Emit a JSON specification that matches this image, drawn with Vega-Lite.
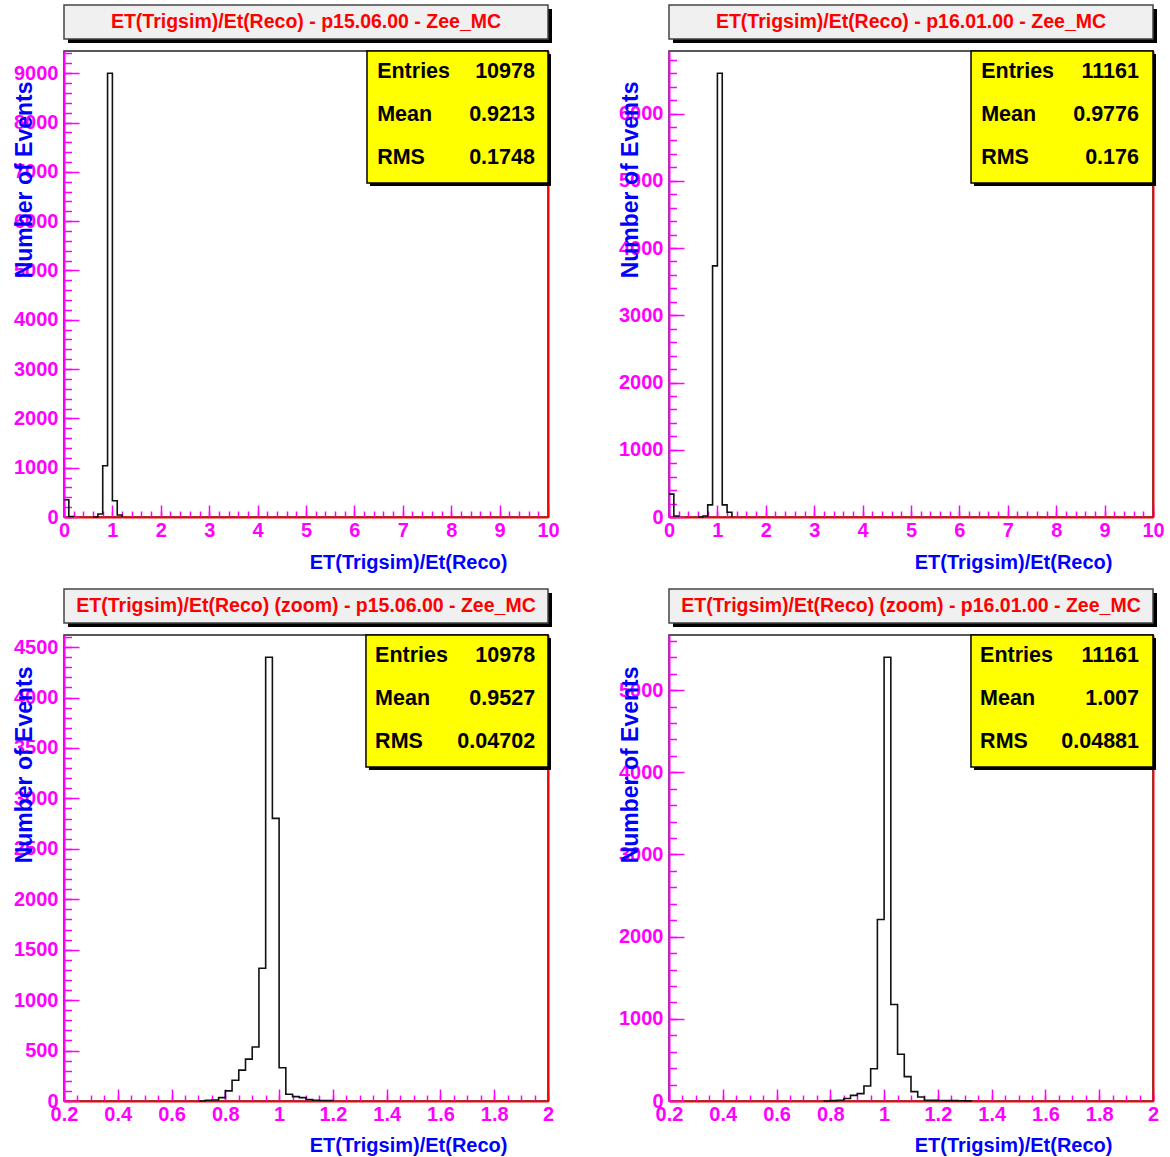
{
"$schema": "https://vega.github.io/schema/vega-lite/v6.json",
"background": "white",
"autosize": {"type": "pad"},
"padding": {"left": 12, "top": 3, "right": 4, "bottom": 4},
"datasets": {
"h1": [{"x":0,"n":350,"seg":"a"},{"x":0.1,"n":10,"seg":"a"},{"x":0.2,"n":0,"seg":"a"},{"x":0.6,"n":0,"seg":"b"},{"x":0.7,"n":60,"seg":"b"},{"x":0.8,"n":1040,"seg":"b"},{"x":0.9,"n":9000,"seg":"b"},{"x":1.0,"n":330,"seg":"b"},{"x":1.1,"n":40,"seg":"b"},{"x":1.2,"n":0,"seg":"b"}],
"h2": [{"x":0,"n":340,"seg":"a"},{"x":0.1,"n":15,"seg":"a"},{"x":0.2,"n":0,"seg":"a"},{"x":0.6,"n":0,"seg":"b"},{"x":0.7,"n":15,"seg":"b"},{"x":0.8,"n":180,"seg":"b"},{"x":0.9,"n":3735,"seg":"b"},{"x":1.0,"n":6600,"seg":"b"},{"x":1.1,"n":180,"seg":"b"},{"x":1.2,"n":70,"seg":"b"},{"x":1.3,"n":0,"seg":"b"}],
"h3": [{"x":0.7,"n":0,"seg":"a"},{"x":0.725,"n":8,"seg":"a"},{"x":0.75,"n":10,"seg":"a"},{"x":0.775,"n":33,"seg":"a"},{"x":0.8,"n":100,"seg":"a"},{"x":0.825,"n":206,"seg":"a"},{"x":0.85,"n":306,"seg":"a"},{"x":0.875,"n":415,"seg":"a"},{"x":0.9,"n":536,"seg":"a"},{"x":0.925,"n":1316,"seg":"a"},{"x":0.95,"n":4400,"seg":"a"},{"x":0.975,"n":2802,"seg":"a"},{"x":1.0,"n":330,"seg":"a"},{"x":1.025,"n":67,"seg":"a"},{"x":1.05,"n":43,"seg":"a"},{"x":1.075,"n":33,"seg":"a"},{"x":1.1,"n":15,"seg":"a"},{"x":1.125,"n":8,"seg":"a"},{"x":1.15,"n":5,"seg":"a"},{"x":1.175,"n":5,"seg":"a"},{"x":1.2,"n":0,"seg":"a"}],
"h4": [{"x":0.775,"n":0,"seg":"a"},{"x":0.8,"n":5,"seg":"a"},{"x":0.825,"n":10,"seg":"a"},{"x":0.85,"n":30,"seg":"a"},{"x":0.875,"n":68,"seg":"a"},{"x":0.9,"n":90,"seg":"a"},{"x":0.925,"n":182,"seg":"a"},{"x":0.95,"n":393,"seg":"a"},{"x":0.975,"n":2209,"seg":"a"},{"x":1.0,"n":5400,"seg":"a"},{"x":1.025,"n":1175,"seg":"a"},{"x":1.05,"n":568,"seg":"a"},{"x":1.075,"n":296,"seg":"a"},{"x":1.1,"n":114,"seg":"a"},{"x":1.125,"n":48,"seg":"a"},{"x":1.15,"n":10,"seg":"a"},{"x":1.175,"n":8,"seg":"a"},{"x":1.2,"n":6,"seg":"a"},{"x":1.225,"n":5,"seg":"a"},{"x":1.25,"n":4,"seg":"a"},{"x":1.275,"n":3,"seg":"a"},{"x":1.3,"n":2,"seg":"a"},{"x":1.325,"n":0,"seg":"a"}],
"s1": [{"k":"Entries","v":"10978"},{"k":"Mean","v":"0.9213"},{"k":"RMS","v":"0.1748"}],
"s2": [{"k":"Entries","v":"11161"},{"k":"Mean","v":"0.9776"},{"k":"RMS","v":"0.176"}],
"s3": [{"k":"Entries","v":"10978"},{"k":"Mean","v":"0.9527"},{"k":"RMS","v":"0.04702"}],
"s4": [{"k":"Entries","v":"11161"},{"k":"Mean","v":"1.007"},{"k":"RMS","v":"0.04881"}]
},
"columns": 2,
"spacing": {"row": 118, "column": 121},
"bounds": "flush",
"concat": [
{
"width": 484, "height": 466,
"resolve": {"scale": {"y": "independent"}, "axis": {"x": "independent", "y": "independent"}},
"layer": [
{"data": {"values": [{}]}, "mark": {"type": "rect", "color": "#000", "xOffset": 4, "x2Offset": 4, "yOffset": 4, "y2Offset": 4},
 "encoding": {"x": {"datum": 0, "type": "quantitative", "scale": {"domain": [0, 10], "nice": false}, "axis": null}, "x2": {"datum": 10},
  "y": {"datum": 10383, "type": "quantitative", "scale": {"domain": [0, 9450], "nice": false}, "axis": null}, "y2": {"datum": 9693}}},
{"data": {"values": [{}]}, "mark": {"type": "rect", "fill": "#f0f0f0", "stroke": "#444", "strokeWidth": 1.5},
 "encoding": {"x": {"datum": 0, "type": "quantitative", "scale": {"domain": [0, 10], "nice": false}, "axis": {"orient": "bottom", "values": [0,1,2,3,4,5,6,7,8,9,10], "tickSize": -12, "tickWidth": 1.5, "labels": false, "domain": false, "title": null}}, "x2": {"datum": 10},
  "y": {"datum": 10383, "type": "quantitative", "scale": {"domain": [0, 9450], "nice": false}, "axis": {"orient": "left", "values": [0,1000,2000,3000,4000,5000,6000,7000,8000,9000], "tickSize": -15, "tickWidth": 1.5, "labels": false, "domain": false, "title": null}}, "y2": {"datum": 9693}}},
{"data": {"values": [{}]}, "mark": {"type": "text", "font": "Liberation Sans", "fontWeight": "bold", "fontSize": 19.5, "color": "#ff0000", "align": "center", "baseline": "middle"},
 "encoding": {"x": {"datum": 5, "type": "quantitative", "scale": {"domain": [0, 10], "nice": false}, "axis": {"orient": "bottom", "values": [0,0.2,0.4,0.6,0.8,1,1.2,1.4,1.6,1.8,2,2.2,2.4,2.6,2.8,3,3.2,3.4,3.6,3.8,4,4.2,4.4,4.6,4.8,5,5.2,5.4,5.6,5.8,6,6.2,6.4,6.6,6.8,7,7.2,7.4,7.6,7.8,8,8.2,8.4,8.6,8.8,9,9.2,9.4,9.6,9.8,10], "tickSize": -6, "tickWidth": 1.5, "labels": false, "domain": false, "title": null}},
  "y": {"datum": 10038, "type": "quantitative", "scale": {"domain": [0, 9450], "nice": false}, "axis": {"orient": "left", "values": [0,200,400,600,800,1000,1200,1400,1600,1800,2000,2200,2400,2600,2800,3000,3200,3400,3600,3800,4000,4200,4400,4600,4800,5000,5200,5400,5600,5800,6000,6200,6400,6600,6800,7000,7200,7400,7600,7800,8000,8200,8400,8600,8800,9000,9200,9400], "tickSize": -7.5, "tickWidth": 1.5, "labels": false, "domain": false, "title": null}},
  "text": {"value": "ET(Trigsim)/Et(Reco) - p15.06.00 - Zee_MC"}}},
{"data": {"name": "h1"}, "mark": {"type": "line", "interpolate": "step-after", "color": "#111", "strokeWidth": 1.6},
 "encoding": {"x": {"field": "x", "type": "quantitative", "scale": {"domain": [0, 10], "nice": false}, "axis": {"orient": "bottom", "values": [0,1,2,3,4,5,6,7,8,9,10], "format": "~r", "ticks": false, "labelPadding": 3, "domainColor": "#ff0000", "domainWidth": 2, "title": "ET(Trigsim)/Et(Reco)", "titleFontSize": 20, "titleX": 443, "titleY": 45, "titleAlign": "right", "titleBaseline": "middle", "titleAnchor": "end"}},
  "y": {"field": "n", "type": "quantitative", "scale": {"domain": [0, 9450], "nice": false}, "axis": {"orient": "left", "values": [0,1000,2000,3000,4000,5000,6000,7000,8000,9000], "format": "d", "ticks": false, "labelPadding": 6, "domainColor": "#ff00ff", "domainWidth": 2, "title": "Number of Events", "titleFontSize": 23, "titleAngle": 270, "titleX": -40, "titleY": 30, "titleAlign": "right", "titleBaseline": "middle", "titleAnchor": "end"}},
  "detail": {"field": "seg"}}},
{"data": {"values": [{}]}, "mark": {"type": "rect", "color": "#000", "xOffset": 3, "x2Offset": 3, "yOffset": 3, "y2Offset": 3},
 "encoding": {"x": {"datum": 6.26, "type": "quantitative", "scale": {"domain": [0, 10], "nice": false}, "axis": null}, "x2": {"datum": 10},
  "y": {"datum": 9450, "type": "quantitative", "scale": {"domain": [0, 9450], "nice": false}, "axis": {"orient": "right", "ticks": false, "labels": false, "domainColor": "#ff0000", "domainWidth": 2, "title": null}}, "y2": {"datum": 6773}}},
{"data": {"values": [{}]}, "mark": {"type": "rect", "fill": "#ffff00", "stroke": "#000", "strokeWidth": 1.5},
 "encoding": {"x": {"datum": 6.26, "type": "quantitative", "scale": {"domain": [0, 10], "nice": false}, "axis": null}, "x2": {"datum": 10},
  "y": {"datum": 9450, "type": "quantitative", "scale": {"domain": [0, 9450], "nice": false}, "axis": null}, "y2": {"datum": 6773}}},
{"data": {"name": "s1"}, "mark": {"type": "text", "font": "Liberation Sans", "fontWeight": "bold", "fontSize": 21.5, "color": "#000", "align": "left", "baseline": "middle"},
 "encoding": {"x": {"datum": 6.47, "type": "quantitative", "scale": {"domain": [0, 10], "nice": false}, "axis": null},
  "y": {"field": "k", "type": "ordinal", "scale": {"type": "point", "domain": ["Entries", "Mean", "RMS"], "range": [21, 107], "padding": 0}, "axis": null}, "text": {"field": "k"}}},
{"data": {"name": "s1"}, "mark": {"type": "text", "font": "Liberation Sans", "fontWeight": "bold", "fontSize": 21.5, "color": "#000", "align": "right", "baseline": "middle"},
 "encoding": {"x": {"datum": 9.73, "type": "quantitative", "scale": {"domain": [0, 10], "nice": false}, "axis": null},
  "y": {"field": "k", "type": "ordinal", "scale": {"type": "point", "domain": ["Entries", "Mean", "RMS"], "range": [21, 107], "padding": 0}, "axis": null}, "text": {"field": "v"}}}
]
},
{
"width": 484, "height": 466,
"resolve": {"scale": {"y": "independent"}, "axis": {"x": "independent", "y": "independent"}},
"layer": [
{"data": {"values": [{}]}, "mark": {"type": "rect", "color": "#000", "xOffset": 4, "x2Offset": 4, "yOffset": 4, "y2Offset": 4},
 "encoding": {"x": {"datum": 0, "type": "quantitative", "scale": {"domain": [0, 10], "nice": false}, "axis": null}, "x2": {"datum": 10},
  "y": {"datum": 7614, "type": "quantitative", "scale": {"domain": [0, 6930], "nice": false}, "axis": null}, "y2": {"datum": 7108}}},
{"data": {"values": [{}]}, "mark": {"type": "rect", "fill": "#f0f0f0", "stroke": "#444", "strokeWidth": 1.5},
 "encoding": {"x": {"datum": 0, "type": "quantitative", "scale": {"domain": [0, 10], "nice": false}, "axis": {"orient": "bottom", "values": [0,1,2,3,4,5,6,7,8,9,10], "tickSize": -12, "tickWidth": 1.5, "labels": false, "domain": false, "title": null}}, "x2": {"datum": 10},
  "y": {"datum": 7614, "type": "quantitative", "scale": {"domain": [0, 6930], "nice": false}, "axis": {"orient": "left", "values": [0,1000,2000,3000,4000,5000,6000], "tickSize": -15, "tickWidth": 1.5, "labels": false, "domain": false, "title": null}}, "y2": {"datum": 7108}}},
{"data": {"values": [{}]}, "mark": {"type": "text", "font": "Liberation Sans", "fontWeight": "bold", "fontSize": 19.5, "color": "#ff0000", "align": "center", "baseline": "middle"},
 "encoding": {"x": {"datum": 5, "type": "quantitative", "scale": {"domain": [0, 10], "nice": false}, "axis": {"orient": "bottom", "values": [0,0.2,0.4,0.6,0.8,1,1.2,1.4,1.6,1.8,2,2.2,2.4,2.6,2.8,3,3.2,3.4,3.6,3.8,4,4.2,4.4,4.6,4.8,5,5.2,5.4,5.6,5.8,6,6.2,6.4,6.6,6.8,7,7.2,7.4,7.6,7.8,8,8.2,8.4,8.6,8.8,9,9.2,9.4,9.6,9.8,10], "tickSize": -6, "tickWidth": 1.5, "labels": false, "domain": false, "title": null}},
  "y": {"datum": 7361, "type": "quantitative", "scale": {"domain": [0, 6930], "nice": false}, "axis": {"orient": "left", "values": [0,200,400,600,800,1000,1200,1400,1600,1800,2000,2200,2400,2600,2800,3000,3200,3400,3600,3800,4000,4200,4400,4600,4800,5000,5200,5400,5600,5800,6000,6200,6400,6600,6800], "tickSize": -7.5, "tickWidth": 1.5, "labels": false, "domain": false, "title": null}},
  "text": {"value": "ET(Trigsim)/Et(Reco) - p16.01.00 - Zee_MC"}}},
{"data": {"name": "h2"}, "mark": {"type": "line", "interpolate": "step-after", "color": "#111", "strokeWidth": 1.6},
 "encoding": {"x": {"field": "x", "type": "quantitative", "scale": {"domain": [0, 10], "nice": false}, "axis": {"orient": "bottom", "values": [0,1,2,3,4,5,6,7,8,9,10], "format": "~r", "ticks": false, "labelPadding": 3, "domainColor": "#ff0000", "domainWidth": 2, "title": "ET(Trigsim)/Et(Reco)", "titleFontSize": 20, "titleX": 443, "titleY": 45, "titleAlign": "right", "titleBaseline": "middle", "titleAnchor": "end"}},
  "y": {"field": "n", "type": "quantitative", "scale": {"domain": [0, 6930], "nice": false}, "axis": {"orient": "left", "values": [0,1000,2000,3000,4000,5000,6000], "format": "d", "ticks": false, "labelPadding": 6, "domainColor": "#ff00ff", "domainWidth": 2, "title": "Number of Events", "titleFontSize": 23, "titleAngle": 270, "titleX": -39, "titleY": 30, "titleAlign": "right", "titleBaseline": "middle", "titleAnchor": "end"}},
  "detail": {"field": "seg"}}},
{"data": {"values": [{}]}, "mark": {"type": "rect", "color": "#000", "xOffset": 3, "x2Offset": 3, "yOffset": 3, "y2Offset": 3},
 "encoding": {"x": {"datum": 6.24, "type": "quantitative", "scale": {"domain": [0, 10], "nice": false}, "axis": null}, "x2": {"datum": 10},
  "y": {"datum": 6930, "type": "quantitative", "scale": {"domain": [0, 6930], "nice": false}, "axis": {"orient": "right", "ticks": false, "labels": false, "domainColor": "#ff0000", "domainWidth": 2, "title": null}}, "y2": {"datum": 4967}}},
{"data": {"values": [{}]}, "mark": {"type": "rect", "fill": "#ffff00", "stroke": "#000", "strokeWidth": 1.5},
 "encoding": {"x": {"datum": 6.24, "type": "quantitative", "scale": {"domain": [0, 10], "nice": false}, "axis": null}, "x2": {"datum": 10},
  "y": {"datum": 6930, "type": "quantitative", "scale": {"domain": [0, 6930], "nice": false}, "axis": null}, "y2": {"datum": 4967}}},
{"data": {"name": "s2"}, "mark": {"type": "text", "font": "Liberation Sans", "fontWeight": "bold", "fontSize": 21.5, "color": "#000", "align": "left", "baseline": "middle"},
 "encoding": {"x": {"datum": 6.45, "type": "quantitative", "scale": {"domain": [0, 10], "nice": false}, "axis": null},
  "y": {"field": "k", "type": "ordinal", "scale": {"type": "point", "domain": ["Entries", "Mean", "RMS"], "range": [21, 107], "padding": 0}, "axis": null}, "text": {"field": "k"}}},
{"data": {"name": "s2"}, "mark": {"type": "text", "font": "Liberation Sans", "fontWeight": "bold", "fontSize": 21.5, "color": "#000", "align": "right", "baseline": "middle"},
 "encoding": {"x": {"datum": 9.71, "type": "quantitative", "scale": {"domain": [0, 10], "nice": false}, "axis": null},
  "y": {"field": "k", "type": "ordinal", "scale": {"type": "point", "domain": ["Entries", "Mean", "RMS"], "range": [21, 107], "padding": 0}, "axis": null}, "text": {"field": "v"}}}
]
},
{
"width": 484, "height": 466,
"resolve": {"scale": {"y": "independent"}, "axis": {"x": "independent", "y": "independent"}},
"layer": [
{"data": {"values": [{}]}, "mark": {"type": "rect", "color": "#000", "xOffset": 4, "x2Offset": 4, "yOffset": 4, "y2Offset": 4},
 "encoding": {"x": {"datum": 0.2, "type": "quantitative", "scale": {"domain": [0.2, 2], "nice": false}, "axis": null}, "x2": {"datum": 2},
  "y": {"datum": 5076, "type": "quantitative", "scale": {"domain": [0, 4620], "nice": false}, "axis": null}, "y2": {"datum": 4739}}},
{"data": {"values": [{}]}, "mark": {"type": "rect", "fill": "#f0f0f0", "stroke": "#444", "strokeWidth": 1.5},
 "encoding": {"x": {"datum": 0.2, "type": "quantitative", "scale": {"domain": [0.2, 2], "nice": false}, "axis": {"orient": "bottom", "values": [0.2,0.4,0.6,0.8,1,1.2,1.4,1.6,1.8,2], "tickSize": -12, "tickWidth": 1.5, "labels": false, "domain": false, "title": null}}, "x2": {"datum": 2},
  "y": {"datum": 5076, "type": "quantitative", "scale": {"domain": [0, 4620], "nice": false}, "axis": {"orient": "left", "values": [0,500,1000,1500,2000,2500,3000,3500,4000,4500], "tickSize": -15, "tickWidth": 1.5, "labels": false, "domain": false, "title": null}}, "y2": {"datum": 4739}}},
{"data": {"values": [{}]}, "mark": {"type": "text", "font": "Liberation Sans", "fontWeight": "bold", "fontSize": 19.5, "color": "#ff0000", "align": "center", "baseline": "middle"},
 "encoding": {"x": {"datum": 1.1, "type": "quantitative", "scale": {"domain": [0.2, 2], "nice": false}, "axis": {"orient": "bottom", "values": [0.2,0.25,0.3,0.35,0.4,0.45,0.5,0.55,0.6,0.65,0.7,0.75,0.8,0.85,0.9,0.95,1,1.05,1.1,1.15,1.2,1.25,1.3,1.35,1.4,1.45,1.5,1.55,1.6,1.65,1.7,1.75,1.8,1.85,1.9,1.95,2], "tickSize": -6, "tickWidth": 1.5, "labels": false, "domain": false, "title": null}},
  "y": {"datum": 4908, "type": "quantitative", "scale": {"domain": [0, 4620], "nice": false}, "axis": {"orient": "left", "values": [0,100,200,300,400,500,600,700,800,900,1000,1100,1200,1300,1400,1500,1600,1700,1800,1900,2000,2100,2200,2300,2400,2500,2600,2700,2800,2900,3000,3100,3200,3300,3400,3500,3600,3700,3800,3900,4000,4100,4200,4300,4400,4500,4600], "tickSize": -7.5, "tickWidth": 1.5, "labels": false, "domain": false, "title": null}},
  "text": {"value": "ET(Trigsim)/Et(Reco) (zoom) - p15.06.00 - Zee_MC"}}},
{"data": {"name": "h3"}, "mark": {"type": "line", "interpolate": "step-after", "color": "#111", "strokeWidth": 1.6},
 "encoding": {"x": {"field": "x", "type": "quantitative", "scale": {"domain": [0.2, 2], "nice": false}, "axis": {"orient": "bottom", "values": [0.2,0.4,0.6,0.8,1,1.2,1.4,1.6,1.8,2], "format": "~r", "ticks": false, "labelPadding": 3, "domainColor": "#ff0000", "domainWidth": 2, "title": "ET(Trigsim)/Et(Reco)", "titleFontSize": 20, "titleX": 443, "titleY": 44, "titleAlign": "right", "titleBaseline": "middle", "titleAnchor": "end"}},
  "y": {"field": "n", "type": "quantitative", "scale": {"domain": [0, 4620], "nice": false}, "axis": {"orient": "left", "values": [0,500,1000,1500,2000,2500,3000,3500,4000,4500], "format": "d", "ticks": false, "labelPadding": 6, "domainColor": "#ff00ff", "domainWidth": 2, "title": "Number of Events", "titleFontSize": 23, "titleAngle": 270, "titleX": -40, "titleY": 31, "titleAlign": "right", "titleBaseline": "middle", "titleAnchor": "end"}},
  "detail": {"field": "seg"}}},
{"data": {"values": [{}]}, "mark": {"type": "rect", "color": "#000", "xOffset": 3, "x2Offset": 3, "yOffset": 3, "y2Offset": 3},
 "encoding": {"x": {"datum": 1.323, "type": "quantitative", "scale": {"domain": [0.2, 2], "nice": false}, "axis": null}, "x2": {"datum": 2},
  "y": {"datum": 4620, "type": "quantitative", "scale": {"domain": [0, 4620], "nice": false}, "axis": {"orient": "right", "ticks": false, "labels": false, "domainColor": "#ff0000", "domainWidth": 2, "title": null}}, "y2": {"datum": 3311}}},
{"data": {"values": [{}]}, "mark": {"type": "rect", "fill": "#ffff00", "stroke": "#000", "strokeWidth": 1.5},
 "encoding": {"x": {"datum": 1.323, "type": "quantitative", "scale": {"domain": [0.2, 2], "nice": false}, "axis": null}, "x2": {"datum": 2},
  "y": {"datum": 4620, "type": "quantitative", "scale": {"domain": [0, 4620], "nice": false}, "axis": null}, "y2": {"datum": 3311}}},
{"data": {"name": "s3"}, "mark": {"type": "text", "font": "Liberation Sans", "fontWeight": "bold", "fontSize": 21.5, "color": "#000", "align": "left", "baseline": "middle"},
 "encoding": {"x": {"datum": 1.357, "type": "quantitative", "scale": {"domain": [0.2, 2], "nice": false}, "axis": null},
  "y": {"field": "k", "type": "ordinal", "scale": {"type": "point", "domain": ["Entries", "Mean", "RMS"], "range": [21, 107], "padding": 0}, "axis": null}, "text": {"field": "k"}}},
{"data": {"name": "s3"}, "mark": {"type": "text", "font": "Liberation Sans", "fontWeight": "bold", "fontSize": 21.5, "color": "#000", "align": "right", "baseline": "middle"},
 "encoding": {"x": {"datum": 1.952, "type": "quantitative", "scale": {"domain": [0.2, 2], "nice": false}, "axis": null},
  "y": {"field": "k", "type": "ordinal", "scale": {"type": "point", "domain": ["Entries", "Mean", "RMS"], "range": [21, 107], "padding": 0}, "axis": null}, "text": {"field": "v"}}}
]
},
{
"width": 484, "height": 466,
"resolve": {"scale": {"y": "independent"}, "axis": {"x": "independent", "y": "independent"}},
"layer": [
{"data": {"values": [{}]}, "mark": {"type": "rect", "color": "#000", "xOffset": 4, "x2Offset": 4, "yOffset": 4, "y2Offset": 4},
 "encoding": {"x": {"datum": 0.2, "type": "quantitative", "scale": {"domain": [0.2, 2], "nice": false}, "axis": null}, "x2": {"datum": 2},
  "y": {"datum": 6230, "type": "quantitative", "scale": {"domain": [0, 5670], "nice": false}, "axis": null}, "y2": {"datum": 5816}}},
{"data": {"values": [{}]}, "mark": {"type": "rect", "fill": "#f0f0f0", "stroke": "#444", "strokeWidth": 1.5},
 "encoding": {"x": {"datum": 0.2, "type": "quantitative", "scale": {"domain": [0.2, 2], "nice": false}, "axis": {"orient": "bottom", "values": [0.2,0.4,0.6,0.8,1,1.2,1.4,1.6,1.8,2], "tickSize": -12, "tickWidth": 1.5, "labels": false, "domain": false, "title": null}}, "x2": {"datum": 2},
  "y": {"datum": 6230, "type": "quantitative", "scale": {"domain": [0, 5670], "nice": false}, "axis": {"orient": "left", "values": [0,1000,2000,3000,4000,5000], "tickSize": -15, "tickWidth": 1.5, "labels": false, "domain": false, "title": null}}, "y2": {"datum": 5816}}},
{"data": {"values": [{}]}, "mark": {"type": "text", "font": "Liberation Sans", "fontWeight": "bold", "fontSize": 19.5, "color": "#ff0000", "align": "center", "baseline": "middle"},
 "encoding": {"x": {"datum": 1.1, "type": "quantitative", "scale": {"domain": [0.2, 2], "nice": false}, "axis": {"orient": "bottom", "values": [0.2,0.25,0.3,0.35,0.4,0.45,0.5,0.55,0.6,0.65,0.7,0.75,0.8,0.85,0.9,0.95,1,1.05,1.1,1.15,1.2,1.25,1.3,1.35,1.4,1.45,1.5,1.55,1.6,1.65,1.7,1.75,1.8,1.85,1.9,1.95,2], "tickSize": -6, "tickWidth": 1.5, "labels": false, "domain": false, "title": null}},
  "y": {"datum": 6023, "type": "quantitative", "scale": {"domain": [0, 5670], "nice": false}, "axis": {"orient": "left", "values": [0,200,400,600,800,1000,1200,1400,1600,1800,2000,2200,2400,2600,2800,3000,3200,3400,3600,3800,4000,4200,4400,4600,4800,5000,5200,5400,5600], "tickSize": -7.5, "tickWidth": 1.5, "labels": false, "domain": false, "title": null}},
  "text": {"value": "ET(Trigsim)/Et(Reco) (zoom) - p16.01.00 - Zee_MC"}}},
{"data": {"name": "h4"}, "mark": {"type": "line", "interpolate": "step-after", "color": "#111", "strokeWidth": 1.6},
 "encoding": {"x": {"field": "x", "type": "quantitative", "scale": {"domain": [0.2, 2], "nice": false}, "axis": {"orient": "bottom", "values": [0.2,0.4,0.6,0.8,1,1.2,1.4,1.6,1.8,2], "format": "~r", "ticks": false, "labelPadding": 3, "domainColor": "#ff0000", "domainWidth": 2, "title": "ET(Trigsim)/Et(Reco)", "titleFontSize": 20, "titleX": 443, "titleY": 44, "titleAlign": "right", "titleBaseline": "middle", "titleAnchor": "end"}},
  "y": {"field": "n", "type": "quantitative", "scale": {"domain": [0, 5670], "nice": false}, "axis": {"orient": "left", "values": [0,1000,2000,3000,4000,5000], "format": "d", "ticks": false, "labelPadding": 6, "domainColor": "#ff00ff", "domainWidth": 2, "title": "Number of Events", "titleFontSize": 23, "titleAngle": 270, "titleX": -39, "titleY": 31, "titleAlign": "right", "titleBaseline": "middle", "titleAnchor": "end"}},
  "detail": {"field": "seg"}}},
{"data": {"values": [{}]}, "mark": {"type": "rect", "color": "#000", "xOffset": 3, "x2Offset": 3, "yOffset": 3, "y2Offset": 3},
 "encoding": {"x": {"datum": 1.323, "type": "quantitative", "scale": {"domain": [0.2, 2], "nice": false}, "axis": null}, "x2": {"datum": 2},
  "y": {"datum": 5670, "type": "quantitative", "scale": {"domain": [0, 5670], "nice": false}, "axis": {"orient": "right", "ticks": false, "labels": false, "domainColor": "#ff0000", "domainWidth": 2, "title": null}}, "y2": {"datum": 4064}}},
{"data": {"values": [{}]}, "mark": {"type": "rect", "fill": "#ffff00", "stroke": "#000", "strokeWidth": 1.5},
 "encoding": {"x": {"datum": 1.323, "type": "quantitative", "scale": {"domain": [0.2, 2], "nice": false}, "axis": null}, "x2": {"datum": 2},
  "y": {"datum": 5670, "type": "quantitative", "scale": {"domain": [0, 5670], "nice": false}, "axis": null}, "y2": {"datum": 4064}}},
{"data": {"name": "s4"}, "mark": {"type": "text", "font": "Liberation Sans", "fontWeight": "bold", "fontSize": 21.5, "color": "#000", "align": "left", "baseline": "middle"},
 "encoding": {"x": {"datum": 1.357, "type": "quantitative", "scale": {"domain": [0.2, 2], "nice": false}, "axis": null},
  "y": {"field": "k", "type": "ordinal", "scale": {"type": "point", "domain": ["Entries", "Mean", "RMS"], "range": [21, 107], "padding": 0}, "axis": null}, "text": {"field": "k"}}},
{"data": {"name": "s4"}, "mark": {"type": "text", "font": "Liberation Sans", "fontWeight": "bold", "fontSize": 21.5, "color": "#000", "align": "right", "baseline": "middle"},
 "encoding": {"x": {"datum": 1.948, "type": "quantitative", "scale": {"domain": [0.2, 2], "nice": false}, "axis": null},
  "y": {"field": "k", "type": "ordinal", "scale": {"type": "point", "domain": ["Entries", "Mean", "RMS"], "range": [21, 107], "padding": 0}, "axis": null}, "text": {"field": "v"}}}
]
}
],
"config": {
"view": {"stroke": "#222", "strokeWidth": 1.5},
"axis": {"grid": false, "labelFont": "Liberation Sans", "labelFontWeight": "bold", "labelFontSize": 20, "labelColor": "#ff00ff", "tickColor": "#ff00ff", "titleFont": "Liberation Sans", "titleFontWeight": "bold", "titleColor": "#0000ff", "labelOverlap": false, "labelFlush": false, "labelBound": false, "domainColor": "#ff00ff"}
}
}
